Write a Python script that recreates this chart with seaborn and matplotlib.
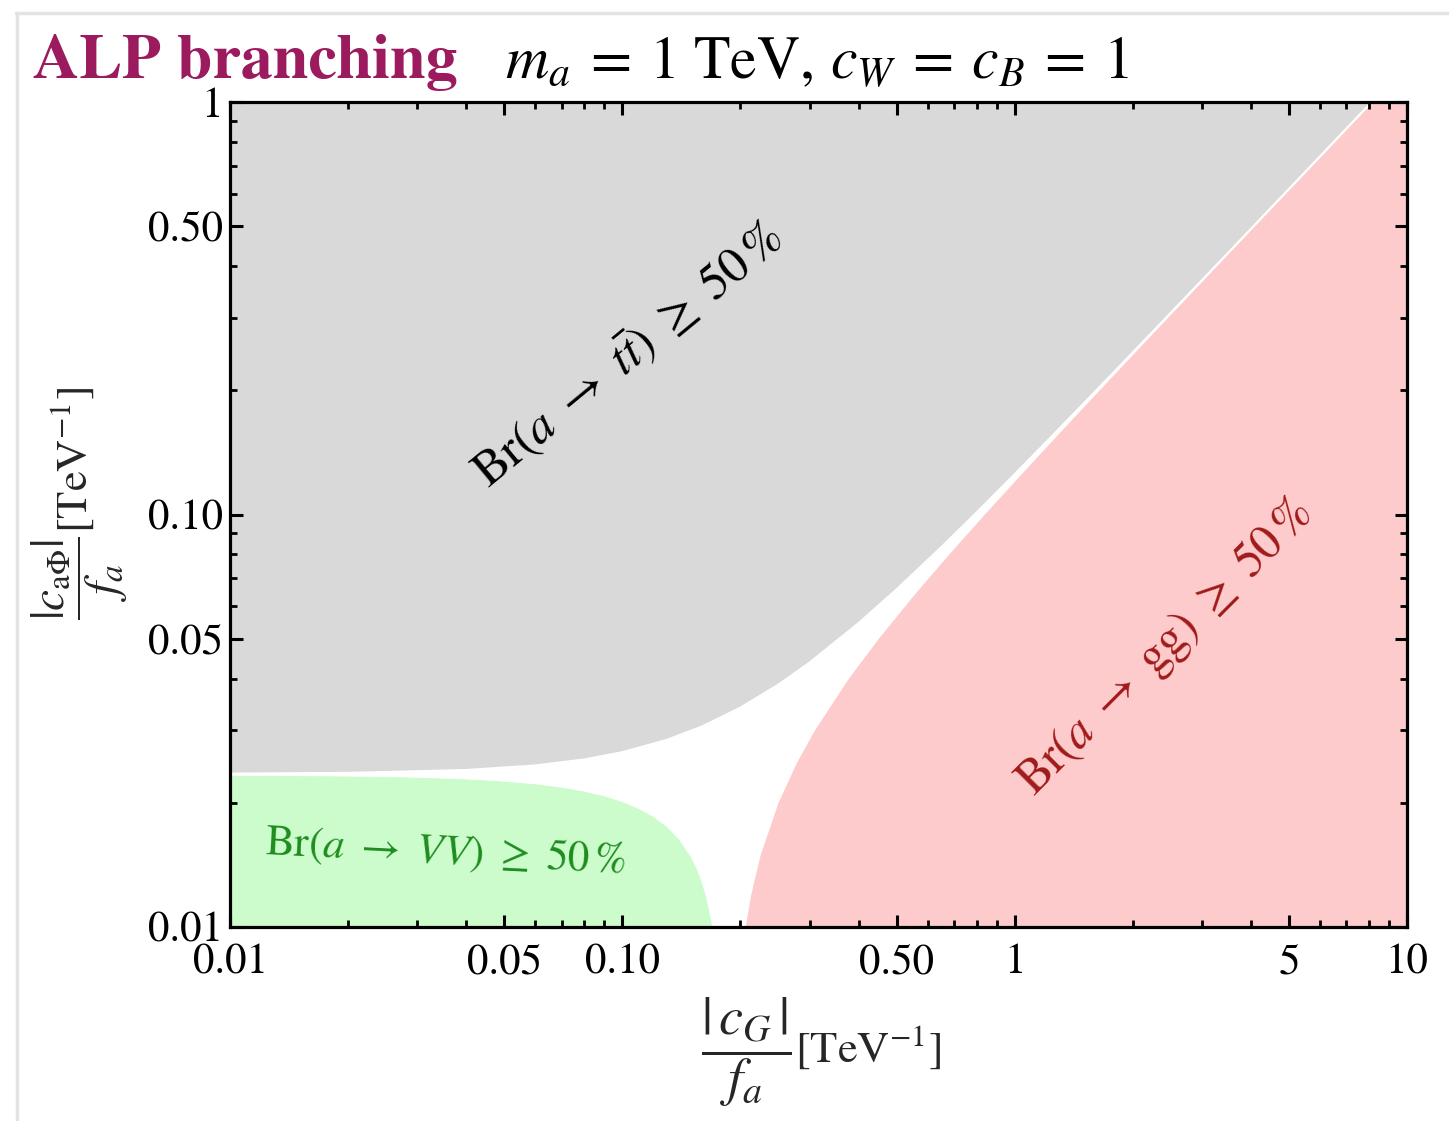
import numpy as np
import pandas as pd
import matplotlib
matplotlib.use("Agg")
import matplotlib.pyplot as plt
import seaborn as sns
from matplotlib.ticker import FixedLocator, NullFormatter, FixedFormatter
from matplotlib.lines import Line2D

# ---------------- data ----------------
# lower boundary of the Br(a->tt) >= 50% region (gray)
tt_x = [0.01, 0.02, 0.04, 0.06, 0.08, 0.10, 0.13, 0.16, 0.20, 0.25, 0.30, 0.40, 0.50,
        0.65, 0.80, 1.0, 1.3, 1.7, 2.2, 3.0, 4.0, 5.5, 8.13]
tt_y = [0.02353, 0.02363, 0.02401, 0.02463, 0.02547, 0.02652, 0.02842, 0.03064, 0.03401,
        0.03868, 0.04372, 0.05449, 0.06579, 0.08327, 0.10109, 0.12513, 0.16149, 0.21025,
        0.27140, 0.36944, 0.49215, 0.67635, 1.0]

# upper boundary of the Br(a->VV) >= 50% region (green)
vv_x = [0.01, 0.02, 0.03, 0.04, 0.05, 0.06, 0.07, 0.08, 0.09, 0.10, 0.11, 0.12, 0.13,
        0.14, 0.15, 0.155, 0.16, 0.165, 0.1703]
vv_y = [0.02336, 0.02327, 0.02312, 0.02290, 0.02262, 0.02228, 0.02187, 0.02139, 0.02083,
        0.02018, 0.01943, 0.01857, 0.01755, 0.01632, 0.01480, 0.01390, 0.01285, 0.01160, 0.0100]

# left boundary of the Br(a->gg) >= 50% region (pink)
gg_y = [0.01, 0.012, 0.015, 0.02, 0.025, 0.03, 0.04, 0.05, 0.065, 0.08, 0.10, 0.13,
        0.17, 0.25, 0.40, 0.60, 1.0]
gg_x = [0.2055, 0.2125, 0.2247, 0.2492, 0.2775, 0.3085, 0.3762, 0.4485, 0.5615, 0.6777,
        0.8353, 1.0745, 1.3961, 2.0429, 3.2602, 4.8857, 8.139]

x_major = [0.01, 0.05, 0.1, 0.5, 1, 5, 10]
x_major_labels = ["0.01", "0.05", "0.10", "0.50", "1", "5", "10"]
y_major = [0.01, 0.05, 0.1, 0.5, 1]
y_major_labels = ["0.01", "0.05", "0.10", "0.50", "1"]

# ---------------- style ----------------
sns.set_theme(style="ticks")
plt.rcParams["font.family"] = ["STIXGeneral", "DejaVu Serif"]
plt.rcParams["mathtext.fontset"] = "stix"
plt.rcParams["axes.linewidth"] = 2.3
plt.rcParams["axes.axisbelow"] = False

GRAY = "#d9d9d9"
GREEN = "#ccfccc"
PINK = "#fdcbcb"
GREEN_TXT = "#1e8c1e"
RED_TXT = "#a01a1a"
TITLE_C = "#9b1b5e"

W, H = 1449, 1121
fig = plt.figure(figsize=(W / 100, H / 100), dpi=100)
fig.patch.set_facecolor("white")

# slide frame edges (light gray)
fig.add_artist(Line2D([16/W, 1.0], [1 - 13/H, 1 - 13/H], color="#e2e4e4", lw=2.5, transform=fig.transFigure))
fig.add_artist(Line2D([17/W, 17/W], [0.0, 1 - 13/H], color="#e2e4e4", lw=2.5, transform=fig.transFigure))

ax = fig.add_axes([230/W, 1 - 927/H, (1407 - 230)/W, (927 - 102)/H])
ax.set_xscale("log")
ax.set_yscale("log")
ax.set_xlim(0.01, 10)
ax.set_ylim(0.01, 1)
ax.set_axisbelow(False)

tt = pd.DataFrame({"x": tt_x, "y": tt_y})
vv = pd.DataFrame({"x": vv_x, "y": vv_y})
gg = pd.DataFrame({"x": gg_x, "y": gg_y})

ax.fill_between(tt["x"], tt["y"], 1.0, color=GRAY, lw=0, zorder=1)
ax.fill_between(vv["x"], 0.01, vv["y"], color=GREEN, lw=0, zorder=1)
ax.fill_betweenx(gg["y"], gg["x"], 10.0, color=PINK, lw=0, zorder=1)
# thin white separation lines along region borders
sns.lineplot(data=tt, x="x", y="y", ax=ax, color="white", lw=1.6, sort=False,
             estimator=None, zorder=2)
sns.lineplot(data=vv, x="x", y="y", ax=ax, color="white", lw=1.0, sort=False,
             estimator=None, zorder=2)
ax.set_xlabel("")
ax.set_ylabel("")

# ticks
ax.xaxis.set_major_locator(FixedLocator(x_major))
ax.xaxis.set_major_formatter(FixedFormatter(x_major_labels))
xminor = [m * 10.0**e for e in (-2, -1, 0) for m in range(2, 10)]
xminor = [v for v in xminor if v not in x_major]
ax.xaxis.set_minor_locator(FixedLocator(xminor))
ax.xaxis.set_minor_formatter(NullFormatter())

ax.yaxis.set_major_locator(FixedLocator(y_major))
ax.yaxis.set_major_formatter(FixedFormatter(y_major_labels))
yminor = [m * 10.0**e for e in (-2, -1) for m in range(2, 10)]
yminor = [v for v in yminor if v not in y_major]
ax.yaxis.set_minor_locator(FixedLocator(yminor))
ax.yaxis.set_minor_formatter(NullFormatter())

ax.tick_params(which="both", direction="in", top=True, right=True, colors="black",
               labelsize=31, labelcolor="black", zorder=6)
ax.tick_params(which="major", length=9, width=2.2)
ax.tick_params(which="minor", length=5, width=2.0)
ax.tick_params(axis="x", which="major", pad=12)
ax.tick_params(axis="y", which="major", pad=5)
for sp in ax.spines.values():
    sp.set_color("black")
    sp.set_zorder(5)

# axis labels (fraction + unit)
fig.text(746/W, 1 - 1052/H, r"$\dfrac{|\,c_G\,|}{f_a}$", fontsize=39, ha="center", va="center")
fig.text(868/W, 1 - 1047/H, r"[TeV$^{-1}$]", fontsize=32, ha="center", va="center")
fig.text(80/W, 1 - 578/H, r"$\dfrac{|c_{\mathrm{a}\Phi}|}{f_a}$", fontsize=34, ha="center",
         va="center", rotation=90)
fig.text(72/W, 1 - 460/H, r"[TeV$^{-1}$]", fontsize=32, ha="center", va="center", rotation=90)

# region labels
ax.text((628 - 230) / 1177, (927 - 355) / 825, r"$\mathrm{Br}(a\ \rightarrow\ t\bar{t})\ \geq\ 50\,\%$",
        transform=ax.transAxes, rotation=39.5, ha="center", va="center", fontsize=36,
        color="black", zorder=3)
ax.text((1165 - 230) / 1177, (927 - 648) / 825, r"$\mathrm{Br}(a\ \rightarrow\ \mathrm{gg})\ \geq\ 50\,\%$",
        transform=ax.transAxes, rotation=45, ha="center", va="center", fontsize=35,
        color=RED_TXT, zorder=3)
ax.text((445 - 230) / 1177, (927 - 852) / 825, r"$\mathrm{Br}(a\ \rightarrow\ VV)\ \geq\ 50\,\%$",
        transform=ax.transAxes, rotation=-3, ha="center", va="center", fontsize=31,
        color=GREEN_TXT, zorder=3)

# title
fig.text(33/W, 1 - 78/H, "ALP branching", fontsize=46, fontweight="bold",
         color=TITLE_C, ha="left", va="baseline")
fig.text(505/W, 1 - 78/H, r"$m_a\:=\:1\ \mathrm{TeV},\,c_W\:=\:c_B\:=\:1$", fontsize=43,
         color="black", ha="left", va="baseline")

fig.savefig("out.png", dpi=100, facecolor="white")
